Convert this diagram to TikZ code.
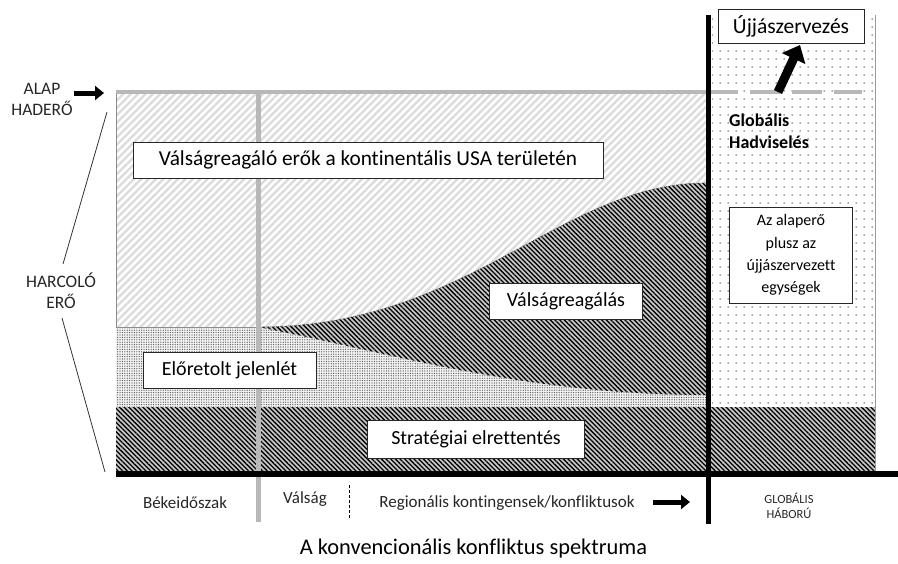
\documentclass[tikz,border=0pt]{standalone}
\usepackage{fontspec}
\setmainfont{Carlito}[Ligatures=NoCommon]
\usetikzlibrary{patterns.meta,arrows.meta}
\begin{document}
\begin{tikzpicture}[x=1pt,y=-1pt,
  lighthatch/.style={pattern={Lines[angle=45,distance=5.2pt,line width=2.3pt]},pattern color=black!14},
  darkhatch/.style={pattern={Lines[angle=-45,distance=3.3pt,line width=1.3pt]},pattern color=black},
  finedots/.style={pattern={Dots[distance=2.4pt,radius=0.6pt]},pattern color=black!70},
  sparsedots/.style={pattern={Dots[distance=8pt,radius=0.75pt]},pattern color=black!70},
  labelbox/.style={draw=black!85,line width=0.8pt,fill=white,inner sep=0pt,font=\fontsize{20}{24}\selectfont},
  sidelabel/.style={align=center,font=\fontsize{17.5}{21}\selectfont,text=black!85},
  axislabel/.style={font=\fontsize{17}{20}\selectfont,text=black!85},
  fatarrow/.style={line width=5pt,-{Triangle[length=9pt,width=14pt]}}
]
\useasboundingbox (0,0) rectangle (898,563);

% regions
\fill[white] (116,92) rectangle (706,327);
\fill[lighthatch] (116,92) rectangle (706,327);
\fill[black!6] (116,327) rectangle (706,407);
\fill[finedots] (116,327) rectangle (706,407);
\fill[white] (712,15) rectangle (875,407);
\fill[sparsedots] (712,15) rectangle (875,407);
\fill[black!22] (258,327) .. controls (470,327) and (560,183) .. (706,183)
   -- (706,395) .. controls (520,395) and (380,350) .. (258,327) -- cycle;
\fill[darkhatch] (258,327) .. controls (470,327) and (560,183) .. (706,183)
   -- (706,395) .. controls (520,395) and (380,350) .. (258,327) -- cycle;
\draw[black!60,line width=0.8pt,dash pattern=on 1pt off 1pt] (258,327) .. controls (470,327) and (560,183) .. (706,183);
\fill[black!22] (116,407) rectangle (875,474);
\fill[darkhatch] (116,407) rectangle (875,474);

% borders
\draw[black!45,line width=0.8pt] (116,92) -- (116,327) -- (258,327);
\draw[black!40,line width=1pt] (875,15) -- (875,474);

% top base line
\draw[black!28,line width=4pt] (116,92) -- (708,92);
\draw[black!28,line width=4pt,dash pattern=on 30pt off 12pt] (708,92) -- (862,92);

% vertical lines
\draw[black!28,line width=5pt] (258,92) -- (258,522);
\draw[black,line width=0.8pt,dash pattern=on 3pt off 2pt] (349,485) -- (349,518);
\draw[black,line width=6pt] (116,474) -- (898,474);
\draw[black,line width=5pt] (708,15) -- (708,524);

% boxes
\node[labelbox,minimum width=470pt,minimum height=36pt,font=\fontsize{21.3}{25}\selectfont] (usa) at (368,160) {Válságreagáló erők a kontinentális USA területén};
\node[labelbox,minimum width=153pt,minimum height=36pt] (crisis) at (566,301) {Válságreagálás};
\node[labelbox,minimum width=173pt,minimum height=36pt] (fwd) at (229.5,370) {Előretolt jelenlét};
\node[labelbox,minimum width=217pt,minimum height=38pt] (deter) at (476,439) {Stratégiai elrettentés};
\node[labelbox,minimum width=146pt,minimum height=34pt,font=\fontsize{21.5}{25}\selectfont] (regen) at (791,26) {Újjászervezés};
\node[labelbox,minimum width=123pt,minimum height=96pt,align=center,font=\fontsize{16}{22.3}\selectfont] (plus) at (791,255) {Az alaperő\\plusz az\\újjászervezett\\egységek};

% global warfare text
\node[anchor=west,align=left,font=\bfseries\fontsize{18}{22}\selectfont,inner sep=0pt] (glob) at (729,131) {Globális\\Hadviselés};

% up-right arrow
\coordinate (upA) at (778,92);
\coordinate (upB) at (800,45);
\draw[line width=9pt,-{Triangle[length=15pt,width=25pt]}] (upA) -- (upB);

% left labels
\node[sidelabel] (alap) at (42,99) {ALAP\\HADERŐ};
\node[sidelabel] (harc) at (61,291) {HARCOLÓ\\ERŐ};
\coordinate (alapA) at (74,93);
\coordinate (alapB) at (104,93);
\draw[fatarrow] (alapA) -- (alapB);
\coordinate (topT) at (107,112);
\coordinate (topH) at (63,264);
\coordinate (botH) at (62,318);
\coordinate (botT) at (105,472);
\draw[black!80,line width=0.8pt] (topT) -- (topH);
\draw[black!80,line width=0.8pt] (botH) -- (botT);

% axis labels
\node[axislabel] (peace) at (185,503) {Békeidőszak};
\node[axislabel] (valsag) at (305,499) {Válság};
\node[axislabel] (regio) at (507,503) {Regionális kontingensek/konfliktusok};
\coordinate (ax1) at (653,502);
\coordinate (ax2) at (690,502);
\draw[fatarrow] (ax1) -- (ax2);
\node[align=center,font=\fontsize{12.5}{14.5}\selectfont,text=black!85] (gwar) at (789,506) {GLOBÁLIS\\HÁBORÚ};

% title
\node[font=\fontsize{22.4}{26}\selectfont] (title) at (473.5,549) {A konvencionális konfliktus spektruma};
\end{tikzpicture}
\end{document}
